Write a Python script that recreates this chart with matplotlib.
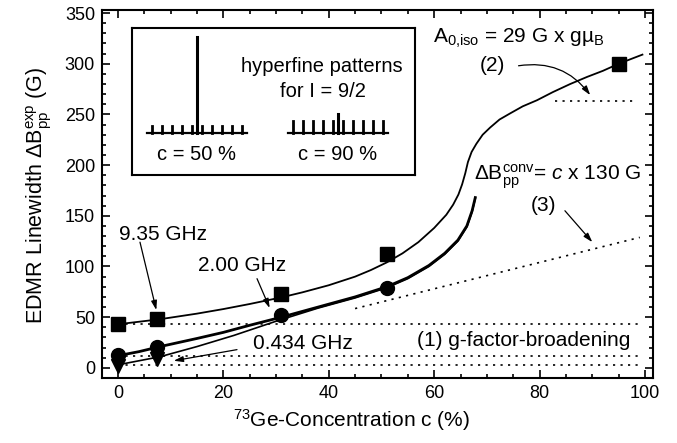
import matplotlib
matplotlib.use('Agg')
import matplotlib.pyplot as plt
from matplotlib.ticker import MultipleLocator
import numpy as np

plt.rcParams['font.family'] = 'Liberation Sans'
plt.rcParams['mathtext.fontset'] = 'custom'
plt.rcParams['mathtext.rm'] = 'Liberation Sans'
plt.rcParams['mathtext.it'] = 'Liberation Sans:italic'
plt.rcParams['mathtext.bf'] = 'Liberation Sans:bold'

# measured linewidths (G) vs 73Ge concentration (%)
sq_x = [0, 7.5, 31, 51, 95]          # 9.35 GHz
sq_y = [43, 48, 73, 112, 300]
circ_x = [0, 7.5, 31, 51]            # 2.00 GHz
circ_y = [13, 21, 52, 79]
tri_x = [0, 7.5]                     # 0.434 GHz
tri_y = [2, 9]

# fitted curves
fit935_x = [0, 4, 8, 15, 20, 25, 31, 35, 40, 45, 48, 51, 54, 57, 60, 62.3, 63.6, 64.6,
            65.3, 65.9, 66.4, 67.1, 68, 69.2, 70.6, 72.4, 74.4, 76.8, 79.5, 82.5,
            85.8, 89, 92, 95, 99.5]
fit935_y = [43, 45.5, 48, 53.5, 58, 63, 69.5, 74.5, 81.5, 90, 96.5, 104, 113, 124, 138, 151, 161, 171,
            181, 192, 203, 213, 221, 230, 237, 245, 251, 258, 264, 272,
            280, 287, 293, 300, 309]
fit200_x = [0, 4, 8, 15, 20, 25, 31, 38, 45, 51, 55, 59, 62, 64.5, 66.2, 67.2, 67.8]
fit200_y = [12, 16, 21, 29, 35, 42, 50, 60, 70, 80, 89, 101, 113, 126, 140, 155, 168]
fit434_x = [0, 4, 8, 15, 22, 30, 38, 45, 51, 55, 59, 62, 64.5, 66.2, 67.2, 67.8]
fit434_y = [3, 7, 11, 21, 32, 46, 59, 69, 79, 88, 100, 112, 125, 139, 154, 167]

# reference levels
gfactor_levels = [43, 12, 3]
hyperfine_x = [83, 98.5]
hyperfine_level = 263
conv_x = [45, 99]
conv_slope = 1.3  # c x 130 G

# inset: hyperfine patterns for I = 9/2 (relative intensities)
m_I = [-4.5, -3.5, -2.5, -1.5, -0.5, 0.5, 1.5, 2.5, 3.5, 4.5]
hf_50 = 0.075
center_50 = 1.0
hf_90 = 0.125
center_90 = 0.2

fig = plt.figure(figsize=(6.77, 4.43), dpi=100)
ax = fig.add_axes([0.1507, 0.1467, 0.8138, 0.8307])

dot = (0, (1.3, 3.2))
for lev in gfactor_levels:
    ax.plot([0, 99], [lev, lev], color='k', lw=1.2, ls=dot)
ax.plot(hyperfine_x, [hyperfine_level] * 2, color='k', lw=1.2, ls=dot)
ax.plot(conv_x, [conv_slope * v for v in conv_x], color='k', lw=1.2, ls=dot)

ax.plot(fit935_x, fit935_y, color='k', lw=1.3)
ax.plot(fit200_x, fit200_y, color='k', lw=2.0)
ax.plot(fit434_x, fit434_y, color='k', lw=1.2)

ax.plot(sq_x, sq_y, 's', color='k', ms=10)
ax.plot(circ_x, circ_y, 'o', color='k', ms=10)
ax.plot(tri_x, tri_y, 'v', color='k', ms=10)

arr = dict(arrowstyle='-|>,head_length=0.55,head_width=0.17', color='k', lw=0.9,
           mutation_scale=10, shrinkA=0, shrinkB=0)
fs = 15
ax.annotate('', xy=(7.3, 57), xytext=(4.2, 124), arrowprops=arr)
ax.text(0.3, 132, '9.35 GHz', fontsize=fs, ha='left', va='center')
ax.annotate('', xy=(28.8, 59), xytext=(26.4, 88), arrowprops=arr)
ax.text(15.2, 101, '2.00 GHz', fontsize=fs, ha='left', va='center')
ax.annotate('', xy=(10.6, 7), xytext=(22.6, 18), arrowprops=arr)
ax.text(25.6, 24, '0.434 GHz', fontsize=fs, ha='left', va='center')
ax.text(56.7, 27, '(1) g-factor-broadening', fontsize=fs, ha='left', va='center')

ax.text(67.6, 185, r'$\Delta\mathrm{B}_{\mathrm{pp}}^{\mathrm{conv}}$= $c$ x 130 G',
        fontsize=fs, ha='left', va='baseline')
ax.text(78.3, 160, '(3)', fontsize=fs, ha='left', va='center')
ax.annotate('', xy=(90, 124), xytext=(84.8, 155), arrowprops=arr)

ax.text(59.8, 321, r'A$_{\mathrm{0{,}iso}}$ = 29 G x gµ$_{\mathrm{B}}$',
        fontsize=fs, ha='left', va='baseline')
ax.text(68.7, 298, '(2)', fontsize=fs, ha='left', va='center')
arr2 = dict(arr, connectionstyle='arc3,rad=-0.3')
ax.annotate('', xy=(89.6, 269), xytext=(76, 298), arrowprops=arr2)

ax.set_xlim(-3, 101.5)
ax.set_ylim(-10, 353)
ax.xaxis.set_major_locator(MultipleLocator(20))
ax.xaxis.set_minor_locator(MultipleLocator(5))
ax.yaxis.set_major_locator(MultipleLocator(50))
ax.yaxis.set_minor_locator(MultipleLocator(10))
ax.tick_params(which='both', direction='in', top=True, right=True, width=1.2,
               labelsize=13, pad=5)
ax.tick_params(which='major', length=6)
ax.tick_params(which='minor', length=3)
for sp in ax.spines.values():
    sp.set_linewidth(1.5)

ax.set_xlabel(r'$^{73}$Ge-Concentration c (%)', fontsize=15)
ax.set_ylabel(r'EDMR Linewidth $\Delta\mathrm{B}_{\mathrm{pp}}^{\mathrm{exp}}$ (G)', fontsize=15.5)
ax.xaxis.set_label_coords(0.452, -0.079)
ax.yaxis.set_label_coords(-0.088, 0.497)

# inset with the two hyperfine patterns (pixel-like units)
ins = fig.add_axes([0.195, 0.605, 0.418, 0.332])
ins.set_xlim(0, 283)
ins.set_ylim(-42, 105)
ins.set_xticks([])
ins.set_yticks([])
for sp in ins.spines.values():
    sp.set_linewidth(1.5)

scale = 96
spacing = 10
for cx, hf, cen, lab in [(64.5, hf_50, center_50, 'c = 50 %'),
                         (206, hf_90, center_90, 'c = 90 %')]:
    ins.plot([cx - 50, cx + 50], [0, 0], color='k', lw=1.6)
    for m in m_I:
        ins.plot([cx + m * spacing] * 2, [0, hf * scale], color='k', lw=2.0)
    ins.plot([cx, cx], [0, cen * scale], color='k', lw=2.2)
    ins.text(cx, -22, lab, fontsize=14.5, ha='center', va='center')

ins.text(190, 66, 'hyperfine patterns', fontsize=14.5, ha='center', va='center')
ins.text(191, 41, 'for I = 9/2', fontsize=14.5, ha='center', va='center')

fig.savefig('out.png', dpi=100)
